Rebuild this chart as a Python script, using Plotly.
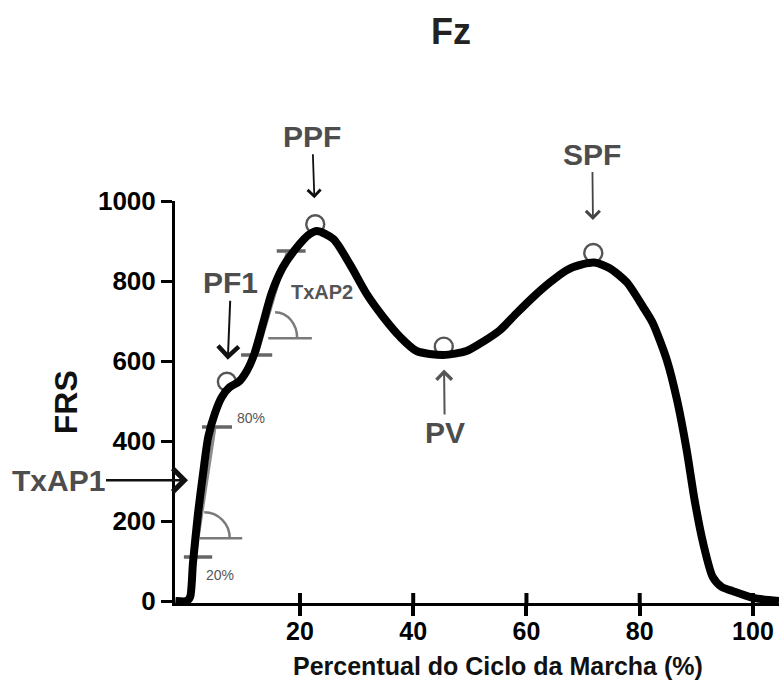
import plotly.graph_objects as go

# ---------------- data ----------------
pct = [-2, 0, 0.6, 1.1, 2.0, 2.9, 3.8, 5.0, 6.2, 7.6, 9.2, 10.6, 12, 13.5, 15, 17, 19.5,
       21.5, 23, 25.9, 28.8, 31.8, 34.7, 37.7, 40.6, 45.3, 49.4, 52.3, 55.3, 58.3, 61.2,
       64.2, 67.1, 70, 72, 74.7, 77.7, 80.6, 82.3, 84.8, 86.6, 88.3, 89.7, 91.2, 92.9,
       94.5, 96.4, 100, 104.6]
frs = [0, 0, 10, 95, 220, 320, 410, 470, 510, 535, 548, 575, 620, 695, 770, 835, 885,
       915, 925, 905, 842, 767, 710, 660, 625, 615, 625, 648, 677, 720, 760,
       797, 827, 842, 846, 832, 797, 735, 695, 602, 502, 377, 252, 145, 60,
       35, 25, 8, 0]

pt_names = ["PF1", "PPF", "PV", "SPF"]
pt_x = [7.1, 22.7, 45.4, 71.8]
pt_y = [548, 942, 636, 870]

x_ticks = [20, 40, 60, 80, 100]
y_ticks = [0, 200, 400, 600, 800, 1000]

# loading-rate helper segments (x0, x1, y0, y1)
slope_segs = [(1.5, 5.0, 110, 435), (12.4, 17.7, 615, 870)]
level_segs = [(-0.5, 4.5, 110, 110), (2.7, 8.0, 435, 435),
              (9.6, 15.1, 615, 615), (15.9, 21.0, 875, 875)]
base_segs = [(2.35, 9.8, 157, 157), (14.4, 22.1, 657, 657)]
# angle arcs: centre x, centre y, radius x, radius y
arcs = [(3.1, 157, 4.5, 65), (15.6, 657, 3.9, 65)]

small_labels = ["80%", "20%", "TxAP2"]
small_x = [11.4, 5.9, 23.9]
small_y = [457, 65, 772]

X_RANGE = [-2.07, 104.6]
Y_RANGE = [-5, 1000]

FONT = "Arial, Liberation Sans, sans-serif"
GRAY_TXT = "#4d4d4d"


def seg_xy(segs):
    xs, ys = [], []
    for x0, x1, y0, y1 in segs:
        xs += [x0, x1, None]
        ys += [y0, y1, None]
    return xs, ys


def b(s):
    return "<b>" + s + "</b>"


fig = go.Figure()

sx, sy = seg_xy(slope_segs)
fig.add_trace(go.Scatter(x=sx, y=sy, mode="lines",
                         line=dict(color="#8c8c8c", width=3), hoverinfo="skip"))
bx, by = seg_xy(base_segs)
fig.add_trace(go.Scatter(x=bx, y=by, mode="lines",
                         line=dict(color="#7a7a7a", width=2.5), hoverinfo="skip"))
lx, ly = seg_xy(level_segs)
fig.add_trace(go.Scatter(x=lx, y=ly, mode="lines",
                         line=dict(color="#666666", width=3.5), hoverinfo="skip"))

# key points (open circles, under the curve)
fig.add_trace(go.Scatter(x=pt_x, y=pt_y, mode="markers", text=pt_names,
                         marker=dict(symbol="circle", size=18, color="white",
                                     line=dict(color="#555555", width=2.4))))

# main curve
fig.add_trace(go.Scatter(x=pct, y=frs, mode="lines",
                         line=dict(color="black", width=8, shape="spline", smoothing=0.7)))

shapes = []
# upper half of the x tick marks (they cross the axis line)
for t in x_ticks:
    shapes.append(dict(type="line", xref="x", yref="paper", x0=t, x1=t,
                       ysizemode="pixel", yanchor=0, y0=0, y1=10,
                       line=dict(color="black", width=4)))

# angle arcs as bezier shapes
k = 0.5523
for cx, cy, rx, ry in arcs:
    path = (f"M {cx},{cy + ry} C {cx + k * rx},{cy + ry} {cx + rx},{cy + k * ry} "
            f"{cx + rx},{cy}")
    shapes.append(dict(type="path", path=path, xref="x", yref="y",
                       line=dict(color="#7a7a7a", width=2.5)))

annotations = []
# labelled arrows to key points: (ax, ay, standoff, arrow colour, width, size)
arr = {"PF1": (4, -99, 22, "#111111", 2, 2.0),
       "PPF": (-3, -88, 26, "#111111", 1.8, 1.4),
       "PV": (1, 86, 23, "#555555", 2, 1.5),
       "SPF": (-1, -99, 33, "#444444", 1.8, 1.5)}
for name, x, y in zip(pt_names, pt_x, pt_y):
    ax, ay, so, col, w, sz = arr[name]
    annotations.append(dict(x=x, y=y, xref="x", yref="y", text=b(name), showarrow=True,
                            ax=ax, ay=ay, standoff=so, arrowhead=4,
                            arrowcolor=col, arrowwidth=w, arrowsize=sz,
                            font=dict(family=FONT, size=30, color=GRAY_TXT)))

# TxAP1 label with horizontal arrow pointing at the rising edge
annotations.append(dict(x=0.23, y=302, xref="x", yref="y", text=b("TxAP1"), showarrow=True,
                        ax=-130, ay=0, arrowhead=4, arrowcolor="#111111",
                        arrowwidth=2.5, arrowsize=1.8,
                        font=dict(family=FONT, size=30, color=GRAY_TXT)))

for t, x, y in zip(small_labels, small_x, small_y):
    big = t.startswith("Tx")
    annotations.append(dict(x=x, y=y, xref="x", yref="y", text=b(t) if big else t,
                            showarrow=False,
                            font=dict(family=FONT, size=20 if big else 14, color="#555555")))

# axis titles
annotations.append(dict(x=0.535, y=-0.157, xref="paper", yref="paper",
                        text=b("Percentual do Ciclo da Marcha (%)"), showarrow=False,
                        xanchor="center", yanchor="middle",
                        font=dict(family=FONT, size=25, color="#111111")))
annotations.append(dict(x=-0.18, y=0.5, xref="paper", yref="paper", text=b("FRS"),
                        showarrow=False, textangle=-90, xanchor="center", yanchor="middle",
                        font=dict(family=FONT, size=32, color="#111111")))

fig.update_layout(
    width=779, height=681,
    margin=dict(l=175, r=0, t=201, b=78),
    paper_bgcolor="white", plot_bgcolor="white",
    showlegend=False,
    title=dict(text=b("Fz"), x=451 / 779, xanchor="center", y=1 - 31 / 681,
               yanchor="middle",
               font=dict(family=FONT, size=36, color="#222222")),
    xaxis=dict(range=X_RANGE, tickmode="array", tickvals=x_ticks,
               ticktext=[b(str(v)) for v in x_ticks], ticks="outside", ticklen=10,
               tickwidth=4, tickcolor="black",
               showline=True, linecolor="black", linewidth=3,
               showgrid=False, zeroline=False,
               tickfont=dict(family=FONT, size=25, color="black"),
               ticklabelstandoff=-6),
    yaxis=dict(range=Y_RANGE, tickmode="array", tickvals=y_ticks,
               ticktext=[b(str(v)) for v in y_ticks], ticks="outside", ticklen=11,
               tickwidth=3, tickcolor="black",
               showline=True, linecolor="black", linewidth=3,
               showgrid=False, zeroline=False,
               tickfont=dict(family=FONT, size=26, color="black")),
    shapes=shapes,
    annotations=annotations,
)

fig.write_html("out.html", config={"staticPlot": True})
